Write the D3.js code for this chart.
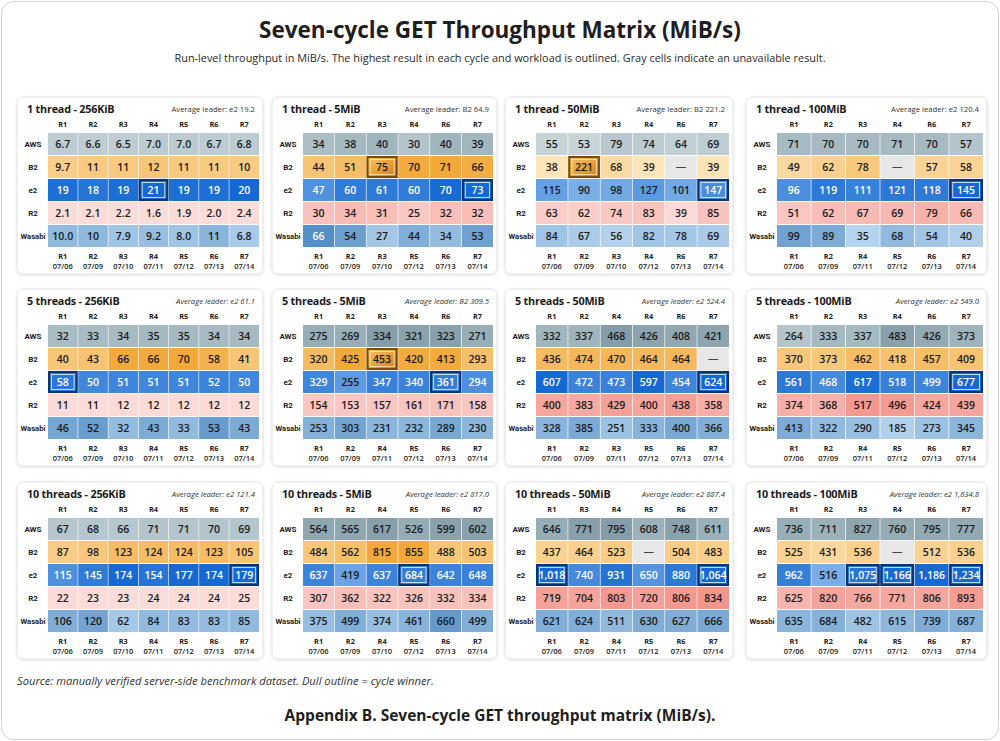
<!DOCTYPE html>
<html lang="en">
<head>
<meta charset="utf-8">
<title>Seven-cycle GET Throughput Matrix</title>
<script src="https://cdn.jsdelivr.net/npm/d3@7"></script>
<style>
  body { margin: 0; background: #fff; }
  text { font-family: "Open Sans", "Noto Sans", sans-serif; }
</style>
</head>
<body>
<script>
// ---- data ----
var providers = ["AWS", "B2", "e2", "R2", "Wasabi"];

var panelTitles = [
  "1 thread - 256KiB", "1 thread - 5MiB", "1 thread - 50MiB", "1 thread - 100MiB",
  "5 threads - 256KiB", "5 threads - 5MiB", "5 threads - 50MiB", "5 threads - 100MiB",
  "10 threads - 256KiB", "10 threads - 5MiB", "10 threads - 50MiB", "10 threads - 100MiB"
];

var leaderNames = ["e2", "B2", "B2", "e2", "e2", "B2", "e2", "e2", "e2", "e2", "e2", "e2"];
var leaderValues = [19.2, 64.9, 221.2, 120.4, 61.1, 309.5, 524.4, 549.0, 121.4, 817.0, 887.4, 1634.8];

// run labels above the grid, and run / date labels below it (as printed)
var topRuns = [
  ["R1","R2","R3","R4","R5","R6","R7"], ["R1","R2","R3","R4","R6","R7"],
  ["R1","R2","R3","R4","R6","R7"], ["R1","R2","R3","R4","R6","R7"],
  ["R1","R2","R3","R4","R5","R6","R7"], ["R1","R2","R3","R4","R6","R7"],
  ["R1","R2","R4","R4","R6","R7"], ["R1","R2","R3","R4","R6","R7"],
  ["R1","R2","R3","R4","R5","R6","R7"], ["R1","R2","R4","R5","R6","R7"],
  ["R1","R3","R4","R5","R6","R7"], ["R1","R2","R3","R4","R6","R7"]
];
var bottomRuns = [
  ["R1","R2","R3","R4","R5","R6","R7"], ["R1","R2","R3","R5","R6","R7"],
  ["R1","R2","R3","R4","R6","R7"], ["R1","R2","R4","R5","R6","R7"],
  ["R1","R2","R3","R4","R5","R6","R7"], ["R1","R2","R4","R5","R6","R7"],
  ["R1","R2","R3","R5","R6","R7"], ["R1","R2","R4","R5","R6","R7"],
  ["R1","R2","R3","R4","R5","R6","R7"], ["R1","R2","R4","R5","R6","R7"],
  ["R1","R2","R4","R5","R6","R7"], ["R1","R2","R4","R5","R6","R7"]
];
var bottomDates = [
  ["07/06","07/09","07/10","07/11","07/12","07/13","07/14"],
  ["07/06","07/09","07/10","07/12","07/13","07/14"],
  ["07/06","07/09","07/10","07/12","07/13","07/14"],
  ["07/06","07/09","07/11","07/12","07/13","07/14"],
  ["07/06","07/09","07/10","07/11","07/12","07/13","07/14"],
  ["07/06","07/09","07/11","07/12","07/13","07/14"],
  ["07/06","07/09","07/11","07/12","07/13","07/14"],
  ["07/06","07/09","07/11","07/12","07/13","07/14"],
  ["07/06","07/09","07/10","07/11","07/12","07/13","07/14"],
  ["07/06","07/09","07/10","07/12","07/13","07/14"],
  ["07/06","07/09","07/11","07/12","07/13","07/14"],
  ["07/06","07/09","07/11","07/12","07/13","07/14"]
];

// one array per provider, one inner array per panel (null = unavailable)
var awsValues = [
  [6.7, 6.6, 6.5, 7.0, 7.0, 6.7, 6.8], [34, 38, 40, 30, 40, 39],
  [55, 53, 79, 74, 64, 69], [71, 70, 70, 71, 70, 57],
  [32, 33, 34, 35, 35, 34, 34], [275, 269, 334, 321, 323, 271],
  [332, 337, 468, 426, 408, 421], [264, 333, 337, 483, 426, 373],
  [67, 68, 66, 71, 71, 70, 69], [564, 565, 617, 526, 599, 602],
  [646, 771, 795, 608, 748, 611], [736, 711, 827, 760, 795, 777]
];
var b2Values = [
  [9.7, 11, 11, 12, 11, 11, 10.4], [44, 51, 75, 70, 71, 66],
  [38, 221, 68, 39, null, 39], [49, 62, 78, null, 57, 58],
  [40, 43, 66, 66, 70, 58, 41], [320, 425, 453, 420, 413, 293],
  [436, 474, 470, 464, 464, null], [370, 373, 462, 418, 457, 409],
  [87, 98, 123, 124, 124, 123, 105], [484, 562, 815, 855, 488, 503],
  [437, 464, 523, null, 504, 483], [525, 431, 536, null, 512, 536]
];
var e2Values = [
  [19, 18, 19, 21, 19, 19, 20], [47, 60, 61, 60, 70, 73],
  [115, 90, 98, 127, 101, 147], [96, 119, 111, 121, 118, 145],
  [58, 50, 51, 51, 51, 52, 50], [329, 255, 347, 340, 361, 294],
  [607, 472, 473, 597, 454, 624], [561, 468, 617, 518, 499, 677],
  [115, 145, 174, 154, 177, 174, 179], [637, 419, 637, 684, 642, 648],
  [1018, 740, 931, 650, 880, 1064], [962, 516, 1075, 1166, 1186, 1234]
];
var r2Values = [
  [2.1, 2.1, 2.2, 1.6, 1.9, 2.0, 2.4], [30, 34, 31, 25, 32, 32],
  [63, 62, 74, 83, 39, 85], [51, 62, 67, 69, 79, 66],
  [11, 11, 12, 12, 12, 12, 12], [154, 153, 157, 161, 171, 158],
  [400, 383, 429, 400, 438, 358], [374, 368, 517, 496, 424, 439],
  [22, 23, 23, 24, 24, 24, 25], [307, 362, 322, 326, 332, 334],
  [719, 704, 803, 720, 806, 834], [625, 820, 766, 771, 806, 893]
];
var wasabiValues = [
  [10.0, 10.3, 7.9, 9.2, 8.0, 11, 6.8], [66, 54, 27, 44, 34, 53],
  [84, 67, 56, 82, 78, 69], [99, 89, 35, 68, 54, 40],
  [46, 52, 32, 43, 33, 53, 43], [253, 303, 231, 232, 289, 230],
  [328, 385, 251, 333, 400, 366], [413, 322, 290, 185, 273, 345],
  [106, 120, 62, 84, 83, 83, 85], [375, 499, 374, 461, 660, 499],
  [621, 624, 511, 630, 627, 666], [635, 684, 482, 615, 739, 687]
];

// outlined cells: [panel, provider, column]
var outlinedCells = [
  [0, "e2", 3], [1, "B2", 2], [1, "e2", 5], [2, "B2", 1], [2, "e2", 5],
  [3, "e2", 5], [4, "e2", 0], [5, "B2", 2], [5, "e2", 4], [6, "e2", 5],
  [7, "e2", 5], [8, "e2", 6], [9, "e2", 3], [10, "e2", 0], [10, "e2", 5],
  [11, "e2", 2], [11, "e2", 3], [11, "e2", 5]
];

// ---- layout ----
var W = 1000, H = 741;
var panelX = [17, 272, 505, 746];
var panelW = [246, 225, 228, 241];
var panelY = [97, 289, 482];
var panelH = 177;

var rowColors = {
  "AWS":    ["#d3dfe2", "#6a8794"],
  "B2":     ["#fde6bd", "#f2a83a"],
  "e2":     ["#a9cff2", "#1669d2"],
  "R2":     ["#fcdcd9", "#f08478"],
  "Wasabi": ["#c2ddf3", "#4a86bf"]
};
var seriesValues = { "AWS": awsValues, "B2": b2Values, "e2": e2Values, "R2": r2Values, "Wasabi": wasabiValues };

var fmtBig = d3.format(",");
function fmt(v) {
  if (v == null) return "\u2014";
  return v <= 10 ? v.toFixed(1) : fmtBig(Math.round(v));
}

var svg = d3.select("body").append("svg")
    .attr("width", W).attr("height", H);

var defs = svg.append("defs");
var sh = defs.append("filter").attr("id", "shadow")
    .attr("x", "-5%").attr("y", "-5%").attr("width", "110%").attr("height", "115%");
sh.append("feDropShadow").attr("dx", 0).attr("dy", 1).attr("stdDeviation", 1.5)
    .attr("flood-color", "#000").attr("flood-opacity", 0.12);

var bevel = defs.append("linearGradient").attr("id", "b2bevel")
    .attr("x1", 0).attr("y1", 0).attr("x2", 1).attr("y2", 1);
bevel.append("stop").attr("offset", "0%").attr("stop-color", "#f6c46a");
bevel.append("stop").attr("offset", "50%").attr("stop-color", "#e9a23c");
bevel.append("stop").attr("offset", "100%").attr("stop-color", "#c97f1c");

svg.append("rect")
    .attr("x", 1.5).attr("y", 1.5).attr("width", W - 3).attr("height", H - 3)
    .attr("rx", 12).attr("fill", "#fff").attr("stroke", "#d4d4d4");

svg.append("text")
    .attr("x", W / 2).attr("y", 38)
    .attr("text-anchor", "middle")
    .style("font-size", "22.5px").style("font-weight", 700).attr("fill", "#1e1e1e")
    .text("Seven-cycle GET Throughput Matrix (MiB/s)");

svg.append("text")
    .attr("x", W / 2).attr("y", 62)
    .attr("text-anchor", "middle")
    .style("font-size", "10.9px").attr("fill", "#2a2a2a")
    .text("Run-level throughput in MiB/s. The highest result in each cycle and workload is outlined. Gray cells indicate an unavailable result.");

panelTitles.forEach(function(title, p) {
  var col = p % 4, row = Math.floor(p / 4);
  var px = panelX[col], py = panelY[row], pw = panelW[col];
  var g = svg.append("g").attr("transform", "translate(" + px + "," + py + ")");

  g.append("rect")
    .attr("width", pw).attr("height", panelH).attr("rx", 6)
    .attr("fill", "#fff").attr("stroke", "#e2e2e2")
    .attr("filter", "url(#shadow)");

  g.append("text")
    .attr("x", 10).attr("y", 16)
    .style("font-size", "10.8px").style("font-weight", 700)
    .style("letter-spacing", "-0.2px").attr("fill", "#1a1a1a")
    .text(title);

  g.append("text")
    .attr("x", pw - 8).attr("y", 15)
    .attr("text-anchor", "end")
    .style("font-size", "7.7px").attr("fill", "#333")
    .style("font-style", row === 0 ? "normal" : "italic")
    .text("Average leader: " + leaderNames[p] + " " + d3.format(",.1f")(leaderValues[p]));

  var nCols = topRuns[p].length;
  var cols = d3.range(nCols);
  var gridTop = 36, gridH = 114;

  var x = d3.scaleBand().domain(cols).range([31, pw - 4]).paddingInner(0.02);
  var y = d3.scaleBand().domain(providers).range([gridTop, gridTop + gridH]).paddingInner(0.04);

  var panelMax = d3.max(providers, function(k) { return d3.max(seriesValues[k][p]); });

  // top run labels
  g.selectAll(".top").data(cols).enter().append("text")
    .attr("x", function(c) { return x(c) + x.bandwidth() / 2; })
    .attr("y", 30)
    .attr("text-anchor", "middle")
    .style("font-size", "7.3px").style("font-weight", 700).attr("fill", "#222")
    .text(function(c) { return topRuns[p][c]; });

  // row labels
  g.selectAll(".rowlab").data(providers).enter().append("text")
    .attr("x", 16)
    .attr("y", function(k) { return y(k) + y.bandwidth() / 2 + 3; })
    .attr("text-anchor", "middle")
    .style("font-size", "8px").style("font-weight", 700).attr("fill", "#222")
    .style("font-family", "Roboto, 'Open Sans', sans-serif")
    .text(function(k) { return k; })
    .each(function() {
      if (this.getComputedTextLength() > 25) {
        d3.select(this).attr("textLength", 25).attr("lengthAdjust", "spacingAndGlyphs");
      }
    });

  // cells
  var cells = [];
  providers.forEach(function(k) {
    seriesValues[k][p].forEach(function(v, c) { cells.push({ k: k, c: c, v: v }); });
  });

  function fillOf(d) {
    if (d.v == null) return "#e7e7e7";
    var t = Math.max(0, Math.min(1, (d.v / panelMax - 0.15) / 0.8));
    return d3.interpolateRgb(rowColors[d.k][0], rowColors[d.k][1])(t);
  }

  g.selectAll(".cell").data(cells).enter().append("rect")
    .attr("x", function(d) { return x(d.c); })
    .attr("y", function(d) { return y(d.k); })
    .attr("width", x.bandwidth())
    .attr("height", y.bandwidth())
    .attr("fill", fillOf);

  // outlines
  outlinedCells.filter(function(o) { return o[0] === p; }).forEach(function(o) {
    var isB2 = o[1] === "B2";
    var cx = x(o[2]), cy = y(o[1]);
    if (isB2) {
      g.append("rect")
        .attr("x", cx + 1).attr("y", cy + 1)
        .attr("width", x.bandwidth() - 2).attr("height", y.bandwidth() - 2)
        .attr("fill", "url(#b2bevel)");
    }
    g.append("rect")
      .attr("x", cx + 1).attr("y", cy + 1)
      .attr("width", x.bandwidth() - 2).attr("height", y.bandwidth() - 2)
      .attr("fill", "none")
      .attr("stroke", isB2 ? "#7a4a0e" : "#0c3370").attr("stroke-width", 2);
    g.append("rect")
      .attr("x", cx + 3.5).attr("y", cy + 3.5)
      .attr("width", x.bandwidth() - 7).attr("height", y.bandwidth() - 7)
      .attr("fill", "none")
      .attr("stroke", isB2 ? "#fbe2b0" : "#d8e8fb").attr("stroke-width", 0.9);
  });

  // values
  g.selectAll(".val").data(cells).enter().append("text")
    .attr("x", function(d) { return x(d.c) + x.bandwidth() / 2; })
    .attr("y", function(d) { return y(d.k) + y.bandwidth() / 2 + 3.8; })
    .attr("text-anchor", "middle")
    .style("font-size", "10.5px").style("font-weight", 600)
    .attr("fill", function(d) {
      if (d.v == null) return "#444";
      return d3.lab(fillOf(d)).l < 60 ? "#fff" : "#1a1a1a";
    })
    .text(function(d) { return fmt(d.v); });

  // bottom run + date labels
  g.selectAll(".brun").data(cols).enter().append("text")
    .attr("x", function(c) { return x(c) + x.bandwidth() / 2; })
    .attr("y", gridTop + gridH + 12)
    .attr("text-anchor", "middle")
    .style("font-size", "7.3px").style("font-weight", 700).attr("fill", "#222")
    .text(function(c) { return bottomRuns[p][c]; });

  g.selectAll(".bdate").data(cols).enter().append("text")
    .attr("x", function(c) { return x(c) + x.bandwidth() / 2; })
    .attr("y", gridTop + gridH + 22)
    .attr("text-anchor", "middle")
    .style("font-size", "7.5px").style("font-weight", 600).attr("fill", "#222")
    .text(function(c) { return bottomDates[p][c]; });
});

svg.append("text")
    .attr("x", 17).attr("y", 685)
    .style("font-size", "11.2px").style("font-style", "italic").attr("fill", "#333")
    .text("Source: manually verified server-side benchmark dataset. Dull outline = cycle winner.");

svg.append("text")
    .attr("x", W / 2).attr("y", 721)
    .attr("text-anchor", "middle")
    .style("font-size", "15.5px").style("font-weight", 700).attr("fill", "#1e1e1e")
    .text("Appendix B. Seven-cycle GET throughput matrix (MiB/s).");
</script>
</body>
</html>
